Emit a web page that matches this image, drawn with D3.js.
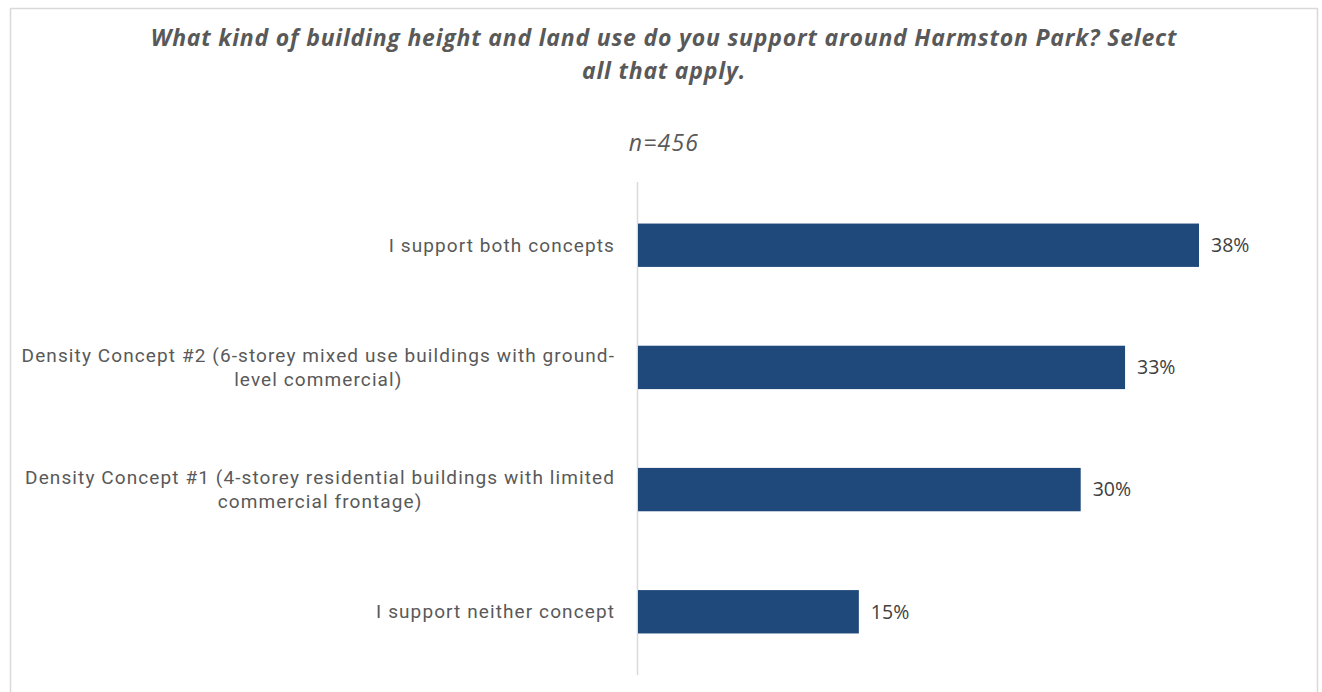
<!DOCTYPE html>
<html>
<head>
<meta charset="utf-8">
<script src="https://cdn.jsdelivr.net/npm/d3@7"></script>
<style>
  html, body { margin: 0; padding: 0; background: #ffffff; }
  svg { display: block; }
</style>
</head>
<body>
<svg id="chart" width="1322" height="692"></svg>
<script>
// Survey responses, top to bottom
const categories = [
  ["I support both concepts"],
  ["Density Concept #2 (6-storey mixed use buildings with ground-", "level commercial)"],
  ["Density Concept #1 (4-storey residential buildings with limited", "commercial frontage)"],
  ["I support neither concept"]
];
const shares = [38, 33, 30, 15];
const titleLines = [
  "What kind of building height and land use do you support around Harmston Park? Select",
  "all that apply."
];
const subtitle = "n=456";

const W = 1322, H = 692;
const svg = d3.select("#chart");

// Frame
svg.append("rect")
  .attr("x", 10.5).attr("y", 8.5)
  .attr("width", 1307).attr("height", 700)
  .attr("fill", "#ffffff")
  .attr("stroke", "#d9d9d9").attr("stroke-width", 1.5);

// Title
const title = svg.append("text")
  .attr("text-anchor", "middle")
  .attr("font-family", "'Open Sans', sans-serif")
  .attr("font-style", "italic").attr("font-weight", 700)
  .attr("font-size", 23).attr("letter-spacing", 0.8)
  .attr("fill", "#595959");
titleLines.forEach((t, i) => {
  title.append("tspan").attr("x", 664).attr("y", 46 + i * 33).text(t);
});

svg.append("text")
  .attr("x", 664).attr("y", 151)
  .attr("text-anchor", "middle")
  .attr("font-family", "'Open Sans', sans-serif")
  .attr("font-style", "italic")
  .attr("font-size", 23).attr("letter-spacing", 1.2)
  .attr("fill", "#595959")
  .text(subtitle);

// Plot area
const x0 = 637;
const yTop = 182, yBot = 675;

const x = d3.scaleLinear().domain([0, 1]).range([x0, x0 + 1479]);
const y = d3.scaleBand()
  .domain(d3.range(categories.length))
  .range([yTop, yBot])
  .paddingInner(0.645).paddingOuter(0.34);

// Category axis line
svg.append("g")
  .attr("transform", `translate(${x0},0)`)
  .call(d3.axisLeft(y).tickSize(0).tickFormat(""))
  .call(g => g.select(".domain").attr("stroke", "#d9d9d9").attr("stroke-width", 1.5)
    .attr("d", `M0.5,${yTop}V${yBot}`));

// Bars
svg.append("g").selectAll("rect")
  .data(shares)
  .join("rect")
  .attr("x", x0 + 1)
  .attr("y", (d, i) => y(i))
  .attr("width", d => x(d / 100) - x0 - 1)
  .attr("height", y.bandwidth())
  .attr("fill", "#1f497a");

// Value labels
svg.append("g").selectAll("text")
  .data(shares)
  .join("text")
  .attr("x", d => x(d / 100) + 12)
  .attr("y", (d, i) => y(i) + y.bandwidth() / 2)
  .attr("dy", "0.35em")
  .attr("font-family", "'Open Sans', sans-serif")
  .attr("font-size", 19.5)
  .attr("fill", "#404040")
  .text(d => d + "%");

// Category labels: lines centred on each other, block right-aligned to the axis
const labelRight = 615;
const lineGap = 24;
const labels = svg.append("g")
  .attr("font-family", "Roboto, sans-serif")
  .attr("font-size", 19)
  .attr("letter-spacing", 1.1)
  .attr("fill", "#595959");

categories.forEach((lines, i) => {
  const cy = y(i) + y.bandwidth() / 2;
  const t = labels.append("text").attr("text-anchor", "middle");
  const spans = lines.map((ln, k) =>
    t.append("tspan")
      .attr("y", cy + (k - (lines.length - 1) / 2) * lineGap)
      .attr("dy", "0.35em")
      .text(ln));
  const maxW = d3.max(spans, s => s.node().getComputedTextLength());
  spans.forEach(s => s.attr("x", labelRight - maxW / 2));
});
</script>
</body>
</html>
